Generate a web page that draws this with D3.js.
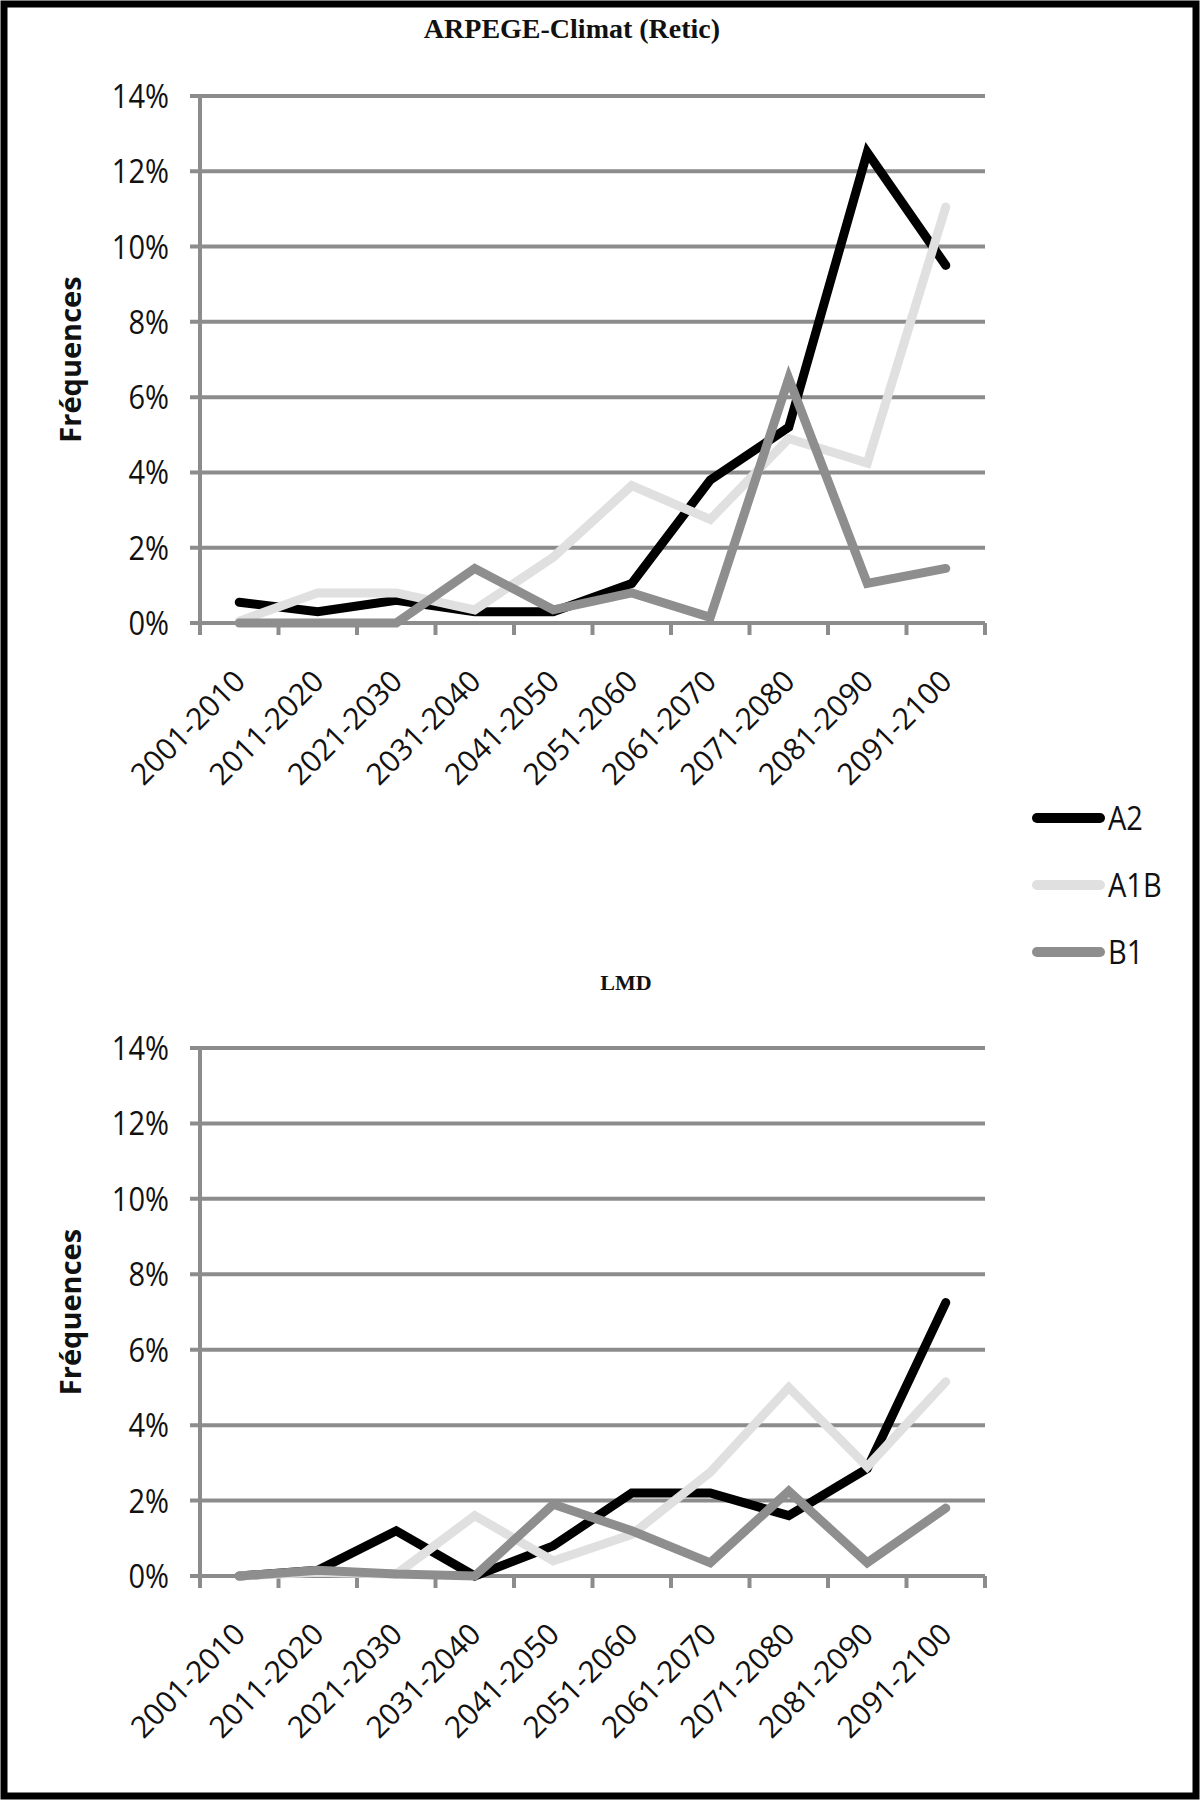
<!DOCTYPE html>
<meta charset="utf-8">
<style>
body { margin: 0; background: #fff; }
text { font-family: 'Open Sans', sans-serif; fill: #111; }
.title { font-family: 'Liberation Serif', serif; font-weight: bold; }
.grid line { stroke: #8c8c8c; stroke-width: 4px; }
.series { fill: none; stroke-width: 9px; stroke-linecap: round; stroke-linejoin: miter; }
</style>
<body>
<script src="https://d3js.org/d3.v7.min.js"></script>
<script>
	var periods = ["2001-2010", "2011-2020", "2021-2030", "2031-2040", "2041-2050",
		"2051-2060", "2061-2070", "2071-2080", "2081-2090", "2091-2100"];

	var yTicks = [0, 0.02, 0.04, 0.06, 0.08, 0.10, 0.12, 0.14];

	var scenarios = ["A2", "A1B", "B1"];
	var colours = ["#000000", "#e0e0e0", "#8e8e8e"];

	// ARPEGE-Climat (Retic)
	var arpegeA2  = [0.0055, 0.003, 0.006, 0.003, 0.003, 0.0105, 0.038, 0.052, 0.125, 0.095];
	var arpegeA1B = [0.0005, 0.008, 0.008, 0.0035, 0.0175, 0.0365, 0.0275, 0.049, 0.0425, 0.1105];
	var arpegeB1  = [0, 0, 0, 0.0145, 0.0035, 0.008, 0.0015, 0.065, 0.0105, 0.0145];

	// LMD
	var lmdA2  = [0, 0.0015, 0.012, 0, 0.008, 0.022, 0.022, 0.016, 0.0285, 0.0725];
	var lmdA1B = [0, 0.001, 0.0005, 0.016, 0.004, 0.011, 0.0275, 0.050, 0.029, 0.0515];
	var lmdB1  = [0, 0.0015, 0.0005, 0, 0.019, 0.012, 0.0035, 0.0225, 0.0035, 0.018];

	var width = 1200,
		height = 1800;

	var plotLeft = 200,
		plotRight = 985;

	var tickFontSize = "29px";

	var svg = d3.select("body").append("svg")
		.attr("width", width)
		.attr("height", height);

	svg.append("rect")
		.attr("width", width)
		.attr("height", height)
		.attr("fill", "#fff");

	//Frame
	svg.append("rect")
		.attr("x", 4)
		.attr("y", 4)
		.attr("width", width - 8)
		.attr("height", height - 8)
		.attr("fill", "none")
		.style("stroke", "#000")
		.style("stroke-width", 7);

	var x = d3.scaleBand()
		.domain(periods)
		.range([plotLeft, plotRight])
		.padding(0);

	function drawChart(title, titleX, titleY, titleSize, top, bottom, seriesList) {

		var y = d3.scaleLinear()
			.domain([0, 0.14])
			.range([bottom, top]);

		//Title Text
		svg.append("text")
			.attr("class", "title")
			.attr("x", titleX)
			.attr("y", titleY)
			.attr("text-anchor", "middle")
			.style("font-size", titleSize)
			.text(title);

		//Gridlines and y labels
		var grid = svg.append("g")
			.attr("class", "grid");

		grid.selectAll("line")
			.data(yTicks)
			.enter().append("line")
				.attr("x1", plotLeft - 10)
				.attr("x2", plotRight)
				.attr("y1", function(d) { return y(d); })
				.attr("y2", function(d) { return y(d); });

		grid.append("line")
			.attr("x1", plotLeft)
			.attr("x2", plotLeft)
			.attr("y1", y(0.14))
			.attr("y2", y(0));

		//Category ticks at band edges
		var edges = periods.map(function(p) { return x(p); }).concat([plotRight]);
		grid.selectAll(".edge")
			.data(edges)
			.enter().append("line")
				.attr("class", "edge")
				.attr("x1", function(d) { return d; })
				.attr("x2", function(d) { return d; })
				.attr("y1", y(0))
				.attr("y2", y(0) + 12);

		svg.append("g").selectAll("text")
			.data(yTicks)
			.enter().append("text")
				.attr("transform", function(d) {
					return "translate(" + (plotLeft - 31) + "," + y(d) + ") scale(1,1.15)";
				})
				.attr("dy", "0.36em")
				.attr("text-anchor", "end")
				.style("font-size", tickFontSize)
				.text(function(d) { return Math.round(d * 100) + "%"; });

		svg.append("g").selectAll("text")
			.data(periods)
			.enter().append("text")
				.attr("transform", function(d) {
					return "translate(" + (x(d) + x.bandwidth() / 2 + 8) + "," + (y(0) + 60) + ") rotate(-45)";
				})
				.attr("text-anchor", "end")
				.style("font-size", "30px")
				.text(function(d) { return d; });

		//Y axis title
		svg.append("text")
			.attr("transform", "translate(81," + ((top + bottom) / 2) + ") rotate(-90)")
			.attr("text-anchor", "middle")
			.style("font-size", "29px")
			.style("font-weight", "bold")
			.text("Fréquences");

		var line = d3.line()
			.x(function(d, i) { return x(periods[i]) + x.bandwidth() / 2; })
			.y(function(d) { return y(d); });

		for (var i = 0; i < seriesList.length; i++) {
			svg.append("path")
				.datum(seriesList[i])
				.attr("class", "series")
				.attr("d", line)
				.style("stroke", colours[i]);
		}
	}

	drawChart("ARPEGE-Climat (Retic)", 572, 38, "28px", 96, 623, [arpegeA2, arpegeA1B, arpegeB1]);
	drawChart("LMD", 626, 990, "22px", 1048, 1576, [lmdA2, lmdA1B, lmdB1]);

	//Legend
	var legendY = d3.scalePoint()
		.domain(scenarios)
		.range([818, 952]);

	var legend = svg.append("g").selectAll("g")
		.data(scenarios)
		.enter().append("g")
			.attr("transform", function(d) { return "translate(0," + legendY(d) + ")"; });

	legend.append("line")
		.attr("x1", 1037)
		.attr("x2", 1100)
		.style("stroke", function(d, i) { return colours[i]; })
		.style("stroke-width", 10)
		.style("stroke-linecap", "round");

	legend.append("text")
		.attr("transform", "translate(1108,0) scale(1,1.15)")
		.attr("dy", "0.36em")
		.style("font-size", tickFontSize)
		.text(function(d) { return d; });
</script>
</body>
</html>
